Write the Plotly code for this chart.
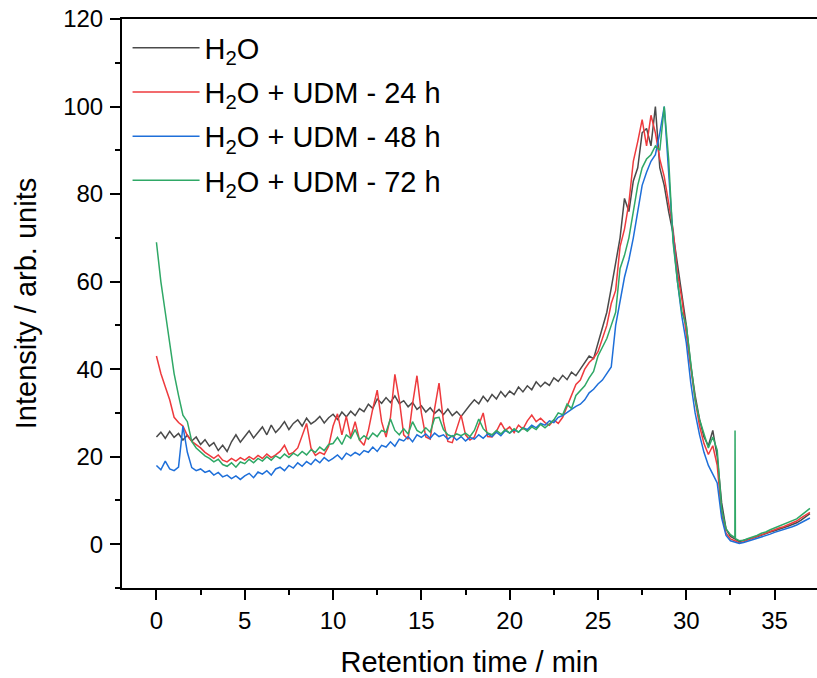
import numpy as np
import plotly.graph_objects as go

# retention time grid (min), one sample every 0.25 min
time_min = np.round(np.arange(0, 37.001, 0.25), 2)

h2o = [
    24.5, 25.6, 24.2, 25.8,  24.4, 25.3, 23.8, 24.9,  23.6, 24.5, 22.8, 23.9,
    22.4, 23.2, 21.4, 22.6,  21.2, 23.4, 25.0, 23.3,  24.6, 25.9, 24.3, 25.6,
    26.8, 25.0, 27.2, 25.5,  26.6, 28.0, 26.2, 27.6,  28.4, 27.0, 28.8, 27.5,
    28.2, 29.2, 27.7, 28.9,  29.7, 28.5, 30.2, 29.1,  30.4, 29.4, 31.0, 30.3,
    32.0, 31.0, 33.2, 32.2,  33.5, 32.4, 33.9, 32.1,  32.8, 31.4, 32.4, 30.8,
    31.6, 30.2, 31.2, 29.9,  30.8, 29.6, 30.9, 29.4,  30.3, 29.2, 30.6, 31.8,
    33.0, 32.1, 33.8, 32.6,  34.2, 33.2, 34.9, 33.7,  35.0, 34.2, 35.9, 34.8,
    36.2, 35.3, 37.1, 36.0,  37.0, 36.3, 38.0, 37.2,  38.6, 37.6, 39.3, 38.5,
    40.0, 41.6, 43.0, 42.4,  46.0, 49.0, 53.0, 58.5,  64.0, 70.0, 79.0, 76.0,
    83.0, 86.0, 94.0, 95.0,  91.0, 100.0, 86.0, 82.0, 76.0, 71.0, 64.0, 57.0,
    50.0, 41.0, 34.0, 28.5,  24.5, 22.5, 26.0, 20.0,  9.5, 3.5, 1.8, 1.2,
    0.6, 0.9, 1.1, 1.4,  1.7, 2.1, 2.4, 2.8,  3.1, 3.4, 3.8, 4.1,
    4.5, 4.9, 5.5, 6.2,  7.0,
]

udm_24h = [
    43.0, 39.0, 36.0, 33.0,  29.0, 27.8, 27.0, 24.8,  23.5, 22.8, 22.0, 21.0,
    20.3, 19.6, 20.4, 19.2,  18.8, 19.6, 19.0, 19.8,  19.2, 20.0, 19.4, 20.3,
    19.6, 20.6, 19.8, 20.4,  21.2, 22.6, 20.5, 21.0,  22.0, 25.0, 27.6, 22.0,
    20.3, 21.0, 20.5, 22.4,  27.0, 29.8, 25.0, 29.2,  24.5, 28.0, 23.8, 22.6,
    26.0, 31.0, 35.2, 28.0,  24.5, 29.0, 38.8, 33.0,  25.0, 24.0, 32.0, 38.5,
    30.0, 24.5, 24.0, 31.0,  36.8, 28.0, 23.5, 23.2,  26.5, 29.5, 25.0, 23.8,
    24.5, 27.5, 30.0, 24.6,  24.5, 25.8, 27.8, 26.0,  26.8, 25.5, 27.2, 26.3,
    28.2, 29.5, 28.0, 28.8,  27.8, 27.2, 28.4, 27.6,  29.0, 31.5, 34.0, 36.5,
    37.5, 40.0, 41.5, 42.5,  44.0, 47.0, 50.0, 55.0,  58.0, 68.0, 72.0, 78.0,
    87.5, 92.0, 97.0, 91.0,  98.0, 94.0, 88.0, 84.0,  78.0, 72.0, 62.0, 56.0,
    48.0, 40.0, 33.0, 27.0,  23.0, 20.5, 22.5, 18.0,  7.0, 2.5, 1.2, 0.8,
    0.3, 0.6, 1.0, 1.4,  1.8, 2.2, 2.6, 3.0,  3.4, 3.7, 4.0, 4.4,
    4.8, 5.3, 6.0, 6.6,  7.3,
]

udm_48h = [
    18.0, 17.0, 19.0, 17.2,  16.8, 17.6, 27.0, 21.0,  17.5, 16.8, 17.2, 16.4,
    16.8, 15.8, 16.4, 15.4,  15.8, 15.0, 15.6, 14.8,  15.6, 16.2, 15.2, 16.5,
    16.0, 16.8, 15.8, 17.2,  17.6, 16.8, 18.0, 17.4,  18.6, 17.8, 18.9, 18.2,
    19.4, 18.6, 19.8, 19.0,  19.6, 20.4, 19.4, 20.8,  20.2, 21.0, 20.4, 21.4,
    21.0, 22.2, 21.2, 22.6,  22.2, 23.4, 22.4, 24.0,  23.6, 24.6, 23.4, 25.0,
    24.4, 25.2, 24.2, 25.4,  24.6, 25.0, 24.0, 24.8,  23.8, 24.6, 23.6, 24.4,
    24.0, 25.0, 24.2, 25.2,  24.6, 25.6, 24.8, 26.0,  25.4, 26.2, 25.6, 26.6,
    26.2, 27.2, 26.6, 27.6,  27.2, 28.2, 27.8, 29.0,  29.4, 30.2, 30.8, 31.5,
    32.0, 33.0, 34.6, 35.4,  36.6, 37.5, 39.0, 40.5,  50.0, 56.0, 61.0, 65.0,
    70.0, 76.0, 82.0, 85.0,  87.5, 89.0, 94.0, 100.0, 84.0, 70.0, 60.0, 52.0,
    46.0, 37.0, 30.0, 25.0,  21.0, 18.0, 16.0, 14.0,  6.0, 2.0, 0.8, 0.5,
    0.2, 0.4, 0.7, 1.0,  1.3, 1.6, 2.0, 2.3,  2.7, 3.0, 3.3, 3.6,
    4.0, 4.4, 5.0, 5.5,  6.0,
]

udm_72h = [
    69.0, 60.0, 53.0, 46.0,  39.0, 34.0, 29.5, 28.0,  23.5, 22.0, 21.0, 20.2,
    19.6, 18.8, 19.4, 18.2,  17.8, 18.6, 17.6, 18.8,  18.4, 19.4, 18.6, 19.6,
    19.0, 20.0, 19.2, 20.2,  19.6, 20.6, 19.8, 20.8,  20.2, 21.2, 20.4, 21.6,
    21.0, 22.2, 21.4, 22.8,  23.0, 24.4, 22.8, 25.0,  24.2, 26.2, 23.8, 24.8,
    24.0, 25.4, 24.6, 26.0,  25.6, 28.6, 26.0, 25.0,  26.4, 25.2, 28.0, 26.0,
    25.4, 26.6, 25.6, 28.8,  29.0, 26.2, 25.0, 24.6,  25.2, 24.8, 25.4, 24.6,
    26.0, 28.6, 26.4, 25.4,  25.0, 26.0, 25.2, 26.2,  25.4, 26.4, 25.6, 26.6,
    25.8, 26.8, 26.2, 27.4,  26.6, 27.6, 28.4, 30.0,  29.6, 32.0, 31.0, 34.0,
    35.0, 36.2, 38.0, 39.5,  43.0, 45.0, 47.0, 50.0,  53.0, 63.0, 66.0, 70.0,
    76.0, 82.0, 86.0, 88.0,  89.0, 91.0, 90.0, 100.0, 88.0, 69.0, 60.0, 53.0,
    50.0, 41.0, 33.0, 28.5,  25.0, 22.0, 24.5, 21.5,  8.0, 3.5, 2.2, 1.5,
    0.8, 0.9, 1.3, 1.6,  2.0, 2.5, 2.8, 3.3,  3.7, 4.1, 4.5, 4.9,
    5.3, 5.8, 6.6, 7.4,  8.2,
]
# narrow spike in the 72 h trace
spike_time = [32.76, 32.78]
spike_val = [26.0, 1.3]

names = ["H<sub>2</sub>O", "H<sub>2</sub>O + UDM - 24 h",
         "H<sub>2</sub>O + UDM - 48 h", "H<sub>2</sub>O + UDM - 72 h"]
colors = ["#4a4a4a", "#ee3a3d", "#1e6fd9", "#2fa866"]

x_ticks = [0, 5, 10, 15, 20, 25, 30, 35]
y_ticks = [0, 20, 40, 60, 80, 100, 120]

# merge spike into 72 h series
t72 = np.concatenate([time_min, spike_time])
v72 = np.concatenate([udm_72h, spike_val])
order = np.argsort(t72, kind="stable")
t72, v72 = t72[order], v72[order]

series = [(time_min, h2o), (time_min, udm_24h), (time_min, udm_48h), (t72, v72)]

FONT = "Liberation Sans, Arial, sans-serif"
fig = go.Figure()
for i, ((tx, vy), nm, c) in enumerate(zip(series, names, colors)):
    fig.add_trace(go.Scatter(x=tx, y=vy, mode="lines", name=nm, legendgroup=f"g{i}",
                             line=dict(color=c, width=1.5)))

fig.update_layout(
    width=817, height=678,
    margin=dict(l=122, r=0, t=19, b=90),
    paper_bgcolor="white", plot_bgcolor="white",
    font=dict(family=FONT, color="black", size=24),
    showlegend=True,
    legend=dict(x=0.008, y=0.994, xanchor="left", yanchor="top",
                bgcolor="rgba(0,0,0,0)", font=dict(size=29, family=FONT),
                itemwidth=67, tracegroupgap=3.5),
)
fig.update_xaxes(
    range=[-1.95, 37.4], tickvals=x_ticks, ticktext=[str(v) for v in x_ticks],
    showgrid=False, zeroline=False, showline=True, linecolor="black", linewidth=2,
    mirror=True, ticks="outside", ticklen=10, tickwidth=2, tickcolor="black",
    tickfont=dict(size=24, family=FONT),
    minor=dict(dtick=2.5, tick0=0, ticks="outside", ticklen=5, tickwidth=2, tickcolor="black"),
    title=dict(text="Retention time / min", font=dict(size=29, family=FONT), standoff=20),
)
fig.update_yaxes(
    range=[-10, 120], tickvals=y_ticks, ticktext=[str(v) for v in y_ticks],
    showgrid=False, zeroline=False, showline=True, linecolor="black", linewidth=2,
    ticks="outside", ticklen=10, tickwidth=2, tickcolor="black", ticklabelstandoff=2,
    tickfont=dict(size=24, family=FONT),
    minor=dict(dtick=10, tick0=0, ticks="outside", ticklen=5, tickwidth=2, tickcolor="black"),
    title=dict(text="Intensity / arb. units", font=dict(size=29, family=FONT), standoff=18),
)
fig.write_html("out.html")
